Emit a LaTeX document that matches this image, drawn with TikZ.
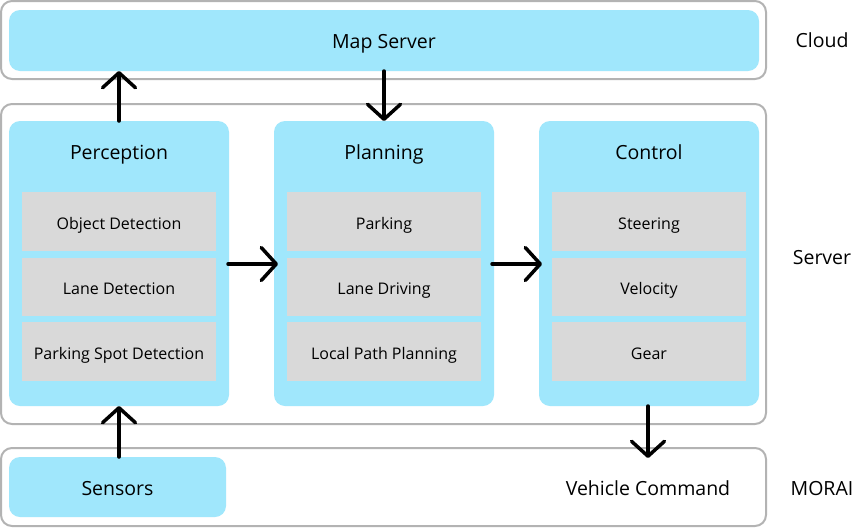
\documentclass[tikz,border=0pt]{standalone}
\usepackage{fontspec}
\setmainfont{Open Sans}
\usetikzlibrary{arrows.meta}
\definecolor{cyanbox}{HTML}{A0E7FC}
\definecolor{graybox}{HTML}{D9D9D9}
\definecolor{outline}{HTML}{B3B3B3}
\tikzset{
  outer/.style={draw=outline, line width=2pt, rounded corners=11pt, fill=white},
  module/.style={fill=cyanbox, rounded corners=11pt},
  sub/.style={fill=graybox},
  flow/.style={line width=3.5pt, -{Straight Barb[length=15pt,width=33pt,line cap=round,line join=round]}, line cap=round},
  big/.style={font=\fontsize{19.5}{23}\selectfont, text height=0.72em, text depth=0em, inner sep=0pt, yshift=-4pt},
  small/.style={font=\fontsize{16}{19}\selectfont, text height=0.72em, text depth=0em, inner sep=0pt, yshift=-3.5pt},
}
\begin{document}
\begin{tikzpicture}[x=1pt,y=-1pt]
\useasboundingbox (0,0) rectangle (865,528);
% outer frames
\draw[outer] (1,1) rectangle (766,79);
\draw[outer] (1,104) rectangle (766,424);
\draw[outer] (1,448) rectangle (766,526);
% cloud
\fill[module] (9,10) rectangle (759,71);
\node[big] (map) at (384,41) {Map Server};
\coordinate (mapS1) at (119,71);
\coordinate (mapS2) at (384,71);
% modules
\foreach \n/\x/\t in {per/9/Perception, pla/274/Planning, con/539/Control}{
  \fill[module] (\x,121) rectangle ++(220,285);
  \node[big] (\n) at (\x+110,152) {\t};
}
% sub boxes
\foreach \n/\x/\a/\b/\c in {per/22/Object Detection/Lane Detection/Parking Spot Detection,
                            pla/287/Parking/Lane Driving/Local Path Planning,
                            con/552/Steering/Velocity/Gear}{
  \fill[sub] (\x,192) rectangle ++(194,59);
  \fill[sub] (\x,258) rectangle ++(194,58);
  \fill[sub] (\x,322) rectangle ++(194,59);
  \node[small] (\n a) at (\x+97,222) {\a};
  \node[small] (\n b) at (\x+97,287) {\b};
  \node[small] (\n c) at (\x+97,352) {\c};
}
% anchor coordinates
\coordinate (perT) at (119,121);
\coordinate (perB) at (119,406);
\coordinate (perR) at (228,264);
\coordinate (plaL) at (278,264);
\coordinate (plaT) at (384,121);
\coordinate (plaR) at (492,264);
\coordinate (conL) at (542,264);
\coordinate (conB) at (648,406);
\coordinate (vcT) at (648,458);
% morai
\fill[module] (9,457) rectangle (226,517);
\node[big] (sens) at (117.5,488) {Sensors};
\coordinate (sensT) at (119,457);
\node[big] (vc) at (648,488) {Vehicle Command};
% side labels
\node[big] (lcloud) at (822,40) {Cloud};
\node[big] (lserver) at (822,257) {Server};
\node[big] (lmorai) at (822,488) {MORAI};
% arrows
\draw[flow] (perT) -- (mapS1);
\draw[flow] (mapS2) -- (plaT);
\draw[flow] (perR) -- (plaL);
\draw[flow] (plaR) -- (conL);
\draw[flow] (conB) -- (vcT);
\draw[flow] (sensT) -- (perB);
\end{tikzpicture}
\end{document}
